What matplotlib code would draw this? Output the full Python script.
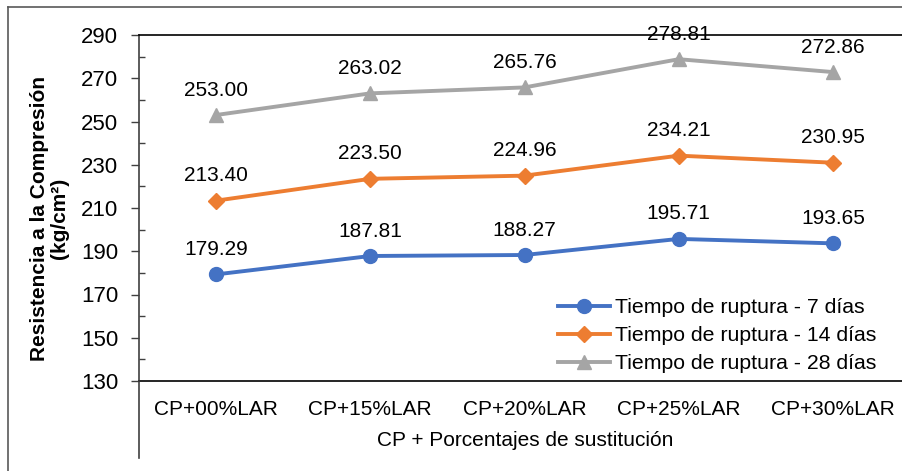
import matplotlib.pyplot as plt
from matplotlib.lines import Line2D

plt.rcParams["font.family"] = ["Liberation Sans", "DejaVu Sans"]

# Datos
categorias = ["CP+00%LAR", "CP+15%LAR", "CP+20%LAR", "CP+25%LAR", "CP+30%LAR"]
dias_7 = [179.29, 187.81, 188.27, 195.71, 193.65]
dias_14 = [213.40, 223.50, 224.96, 234.21, 230.95]
dias_28 = [253.00, 263.02, 265.76, 278.81, 272.86]
ticks_y = [130, 150, 170, 190, 210, 230, 250, 270, 290]
ticks_y_menor = [140, 160, 180, 200, 220, 240, 260, 280]

series = [
    ("Tiempo de ruptura - 7 días", dias_7, "#4472C4", "o", 10),
    ("Tiempo de ruptura - 14 días", dias_14, "#ED7D31", "D", 8),
    ("Tiempo de ruptura - 28 días", dias_28, "#A5A5A5", "^", 10),
]

W, H = 903, 471
fig = plt.figure(figsize=(W / 100, H / 100), dpi=100)
ax = fig.add_axes([139 / W, 1 - 381 / H, (910 - 139) / W, (381 - 35) / H])

x = list(range(len(categorias)))
for nombre, vals, color, marker, ms in series:
    ax.plot(x, vals, color=color, marker=marker, markersize=ms, linewidth=2.8,
            label=nombre)
    for xi, v in zip(x, vals):
        ax.annotate(f"{v:.2f}", (xi, v), xytext=(0, 14), textcoords="offset points",
                    ha="center", va="baseline", fontsize=15, color="#000000")

ax.set_xlim(-0.5, 4.5)
ax.set_ylim(130, 290)
ax.set_yticks(ticks_y)
ax.set_yticks(ticks_y_menor, minor=True)
ax.set_xticks(x)
ax.set_xticklabels(categorias, fontsize=15)
ax.tick_params(axis="x", length=0, pad=14)
ax.tick_params(axis="y", which="major", direction="out", length=6, width=1,
               labelsize=16, pad=9, color="#404040")
ax.tick_params(axis="y", which="minor", direction="in", length=4, width=1,
               color="#404040")

for lado in ["left", "bottom", "top"]:
    ax.spines[lado].set_color("#000000")
    ax.spines[lado].set_linewidth(1.2)
ax.spines["right"].set_visible(False)
ax.spines["left"].set_color("#404040")

ax.set_ylabel("Resistencia a la Compresión\n(kg/cm²)", fontsize=15,
              fontweight="bold", linespacing=1.05)
ax.yaxis.set_label_coords((69 - 139) / 771, 1 - (218 - 35) / 346)

fig.text(525 / W, 1 - 440 / H, "CP + Porcentajes de sustitución", ha="center",
         va="center", fontsize=15)

# Prolongacion del eje y debajo de las categorias
fig.add_artist(Line2D([139 / W, 139 / W], [1 - 381 / H, 1 - 458 / H],
                      color="#404040", linewidth=1.2))
# Marco exterior del grafico
fig.add_artist(Line2D([8 / W, 8 / W], [1 - 7 / H, 0], color="#595959", linewidth=1.2))
fig.add_artist(Line2D([8 / W, 1], [1 - 7 / H, 1 - 7 / H], color="#595959", linewidth=1.2))

ax.legend(loc="lower right", bbox_to_anchor=(891 / W, 1 - 388 / H),
          bbox_transform=fig.transFigure, frameon=False, fontsize=15.3,
          handlelength=2.45, handletextpad=0.2, labelspacing=0.42, borderpad=0.2)

fig.savefig("out.png", dpi=100)
